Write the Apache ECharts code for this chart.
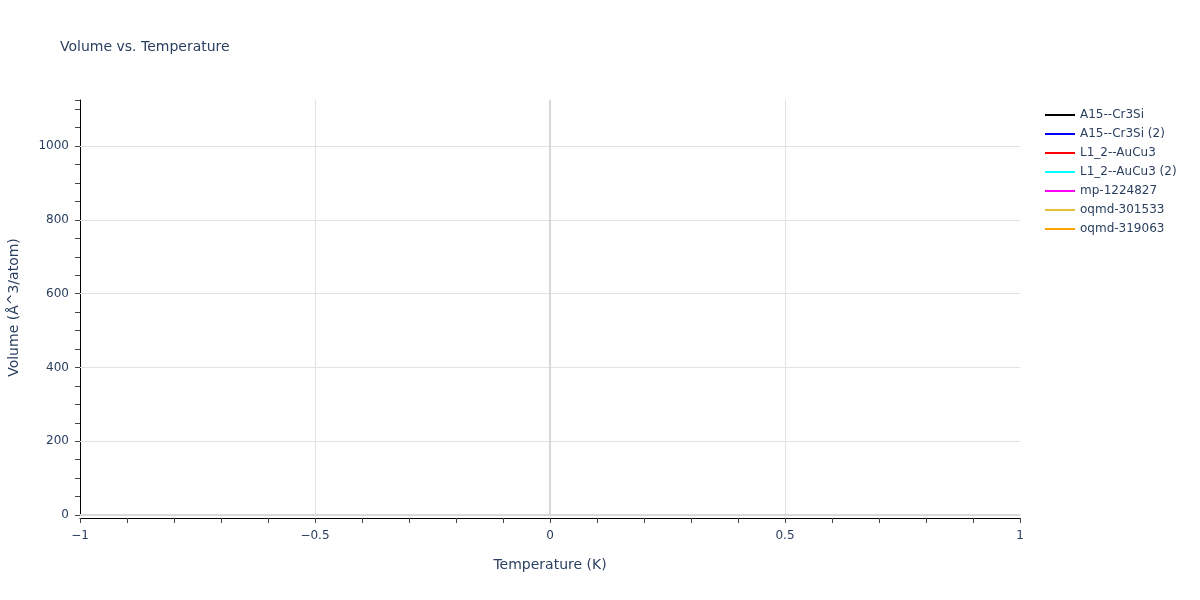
<!DOCTYPE html>
<html>
<head>
<meta charset="utf-8">
<script src="https://cdn.jsdelivr.net/npm/echarts@6/dist/echarts.min.js"></script>
<style>
  html, body { margin: 0; padding: 0; background: #fff; }
  #chart { width: 1200px; height: 600px; }
</style>
</head>
<body>
<div id="chart"></div>
<script>
// series names and colours, as in the legend
const seriesNames = ['A15--Cr3Si', 'A15--Cr3Si (2)', 'L1_2--AuCu3', 'L1_2--AuCu3 (2)', 'mp-1224827', 'oqmd-301533', 'oqmd-319063'];
const seriesColors = ['#000000', '#0000ff', '#ff0000', '#00ffff', '#ff00ff', '#e6c035', '#ffa500'];
// one point each at T = 0 K (nothing visible in the picture)
const temperatures = [0];
const volumes = [[13.3], [13.3], [12.9], [12.9], [13.6], [13.1], [13.4]];

// ticks / grid lines
const yLabels = [0, 200, 400, 600, 800, 1000];
const xLabels = [-1, -0.5, 0, 0.5, 1];
const yGrid = [200, 400, 600, 800, 1000];
const xGrid = [-0.5, 0.5];

const textColor = '#2a3f5f';
const font = '"DejaVu Sans", Verdana, sans-serif';

function isLabel(list, v) {
    return list.some(t => Math.abs(t - v) < 1e-9);
}

function setChart() {
    let myChart = echarts.init(document.querySelector('#chart'));

    let gridLines = [];
    yGrid.forEach(v => gridLines.push({ yAxis: v }));
    xGrid.forEach(v => gridLines.push({ xAxis: v }));
    let zeroLines = [{ yAxis: 0 }, { xAxis: 0 }];

    let series = seriesNames.map((name, i) => ({
        name: name,
        type: 'line',
        symbol: 'none',
        color: seriesColors[i],
        lineStyle: { width: 2 },
        data: temperatures.map((t, j) => [t, volumes[i][j]])
    }));
    // grid lines drawn as mark lines so the end positions stay clean
    series[0].markLine = {
        silent: true,
        symbol: 'none',
        label: { show: false },
        animation: false,
        lineStyle: { color: '#e2e2e2', width: 1, type: 'solid' },
        emphasis: { disabled: true },
        data: gridLines
    };
    series[1].markLine = {
        silent: true,
        symbol: 'none',
        label: { show: false },
        animation: false,
        lineStyle: { color: '#d8d8d8', width: 2, type: 'solid' },
        emphasis: { disabled: true },
        data: zeroLines
    };

    let option = {
        animation: false,
        textStyle: { fontFamily: font },
        title: {
            text: 'Volume vs. Temperature',
            left: 55,
            top: 35,
            textStyle: { color: textColor, fontSize: 14, fontWeight: 'normal', fontFamily: font }
        },
        legend: {
            orient: 'vertical',
            left: 1040,
            top: 104,
            itemWidth: 30,
            itemHeight: 10,
            itemGap: 7,
            icon: 'path://M0,0 L30,0 L30,2 L0,2 Z',
            textStyle: { color: textColor, fontSize: 12, fontFamily: font },
            data: seriesNames
        },
        grid: { left: 80, right: 180, top: 100, bottom: 85, outerBoundsMode: 'none', containLabel: false },
        xAxis: {
            type: 'value',
            min: -1,
            max: 1,
            interval: 0.1,
            offset: 3,
            name: 'Temperature (K)',
            nameLocation: 'middle',
            nameGap: 40,
            nameTextStyle: { color: textColor, fontSize: 14, fontFamily: font },
            axisLine: { show: true, onZero: false, lineStyle: { color: '#000', width: 1 } },
            axisTick: { show: true, length: 5, lineStyle: { color: '#444' } },
            axisLabel: {
                color: textColor,
                fontSize: 12,
                margin: 12,
                showMinLabel: true,
                showMaxLabel: true,
                formatter: v => isLabel(xLabels, v) ? String(Math.round(v * 10) / 10).replace('-', '\u2212') : ''
            },
            splitLine: { show: false }
        },
        yAxis: {
            type: 'value',
            min: 0,
            max: 1125,
            interval: 50,
            name: 'Volume (Å^3/atom)',
            nameLocation: 'middle',
            nameGap: 59,
            nameTextStyle: { color: textColor, fontSize: 14, fontFamily: font },
            axisLine: { show: true, onZero: false, lineStyle: { color: '#000', width: 1 } },
            axisTick: { show: true, length: 5, lineStyle: { color: '#444' } },
            axisLabel: {
                color: textColor,
                fontSize: 12,
                margin: 11,
                formatter: v => isLabel(yLabels, v) ? String(v) : ''
            },
            splitLine: { show: false }
        },
        series: series
    };
    myChart.setOption(option);
}

setChart();
</script>
</body>
</html>
